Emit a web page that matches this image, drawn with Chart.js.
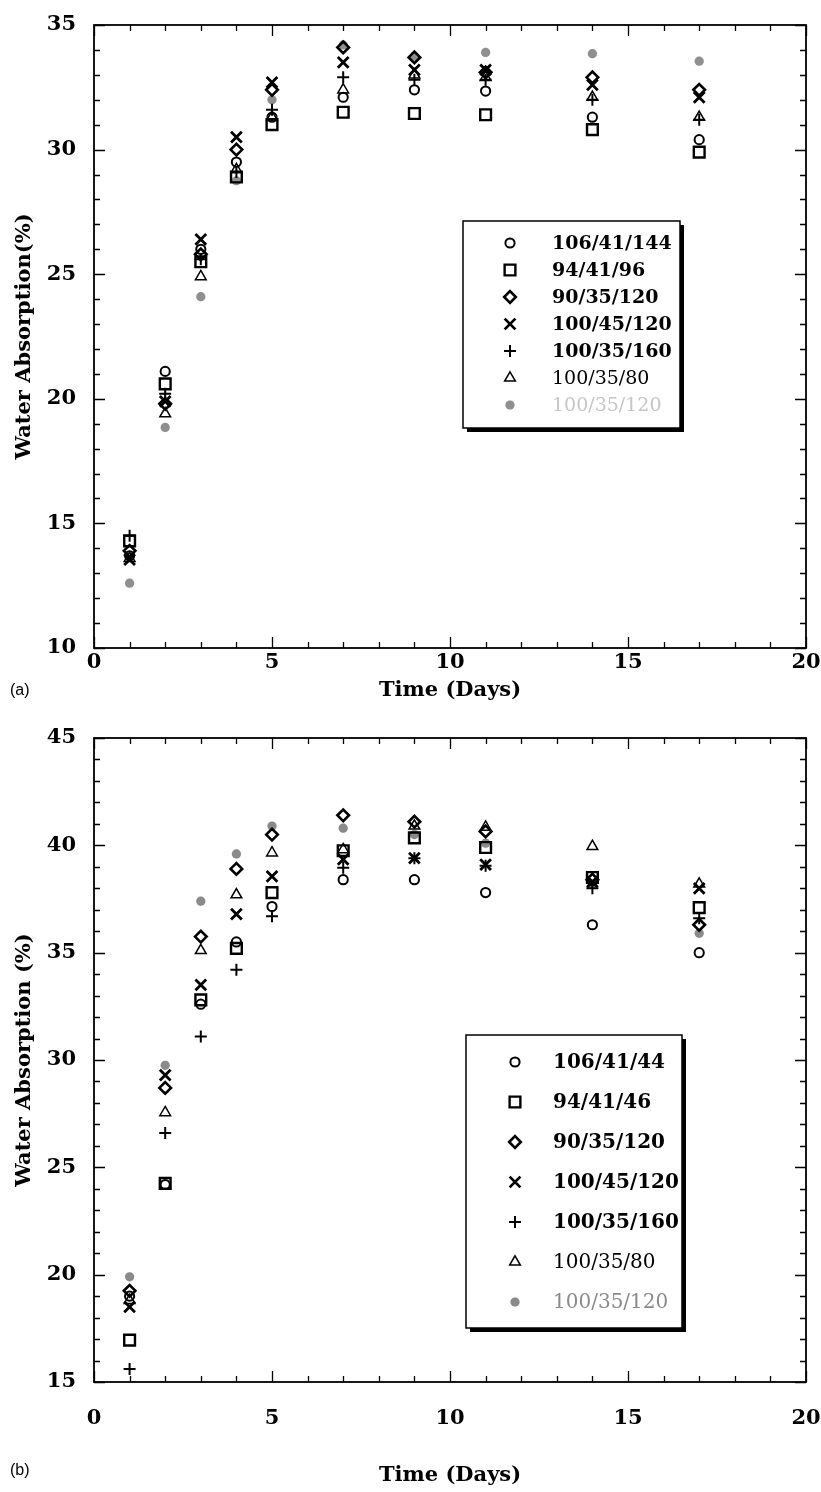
<!DOCTYPE html>
<html>
<head>
<meta charset="utf-8">
<script src="https://cdn.jsdelivr.net/npm/chart.js@4.4.0/dist/chart.umd.min.js"></script>
<style>
  body { margin: 0; background: #fff; width: 821px; height: 1492px; position: relative; overflow: hidden; }
  .wrap { position: absolute; left: 0; width: 821px; }
  #wrap-a { top: 0; height: 705px; }
  #wrap-b { top: 705px; height: 787px; }
  .tag { position: absolute; left: 10px; font: 16px "Liberation Sans", Arial, sans-serif; color: #000; }
</style>
</head>
<body>
<div class="wrap" id="wrap-a"><canvas id="chart-a" width="821" height="705"></canvas></div>
<div class="wrap" id="wrap-b"><canvas id="chart-b" width="821" height="787"></canvas></div>
<div class="tag" style="top:681px">(a)</div>
<div class="tag" style="top:1461px">(b)</div>

<script>
// sampling days (same for both panels)
const days = [1, 2, 3, 4, 5, 7, 9, 11, 14, 17]
const xTicks = [0, 5, 10, 15, 20]

// panel (a)
const namesA = ["106/41/144", "94/41/96", "90/35/120", "100/45/120", "100/35/160", "100/35/80", "100/35/120"]
const yTicksA = [10, 15, 20, 25, 30, 35]
const a106_41_144 = [13.7, 21.1, 26.0, 29.5, 31.3, 32.1, 32.4, 32.35, 31.3, 30.4]
const a94_41_96 = [14.3, 20.6, 25.5, 28.9, 31.0, 31.5, 31.45, 31.4, 30.8, 29.9]
const a90_35_120 = [13.9, 19.8, 25.8, 30.0, 32.4, 34.1, 33.7, 33.1, 32.9, 32.4]
const a100_45_120 = [13.55, 19.9, 26.4, 30.5, 32.7, 33.5, 33.2, 33.2, 32.6, 32.1]
const a100_35_160 = [14.5, 20.2, 25.6, 29.1, 31.6, 32.9, 32.8, 32.8, 32.0, 31.2]
const a100_35_80 = [13.6, 19.4, 24.9, 29.2, 31.3, 32.4, 33.0, 32.9, 32.1, 31.3]
const a100_35_120 = [12.6, 18.85, 24.1, 28.75, 32.0, 34.2, 33.75, 33.9, 33.85, 33.55]

// panel (b)
const namesB = ["106/41/44", "94/41/46", "90/35/120", "100/45/120", "100/35/160", "100/35/80", "100/35/120"]
const yTicksB = [15, 20, 25, 30, 35, 40, 45]
const b106_41_44 = [19.0, 24.2, 32.6, 35.5, 37.15, 38.4, 38.4, 37.8, 36.3, 35.0]
const b94_41_46 = [16.95, 24.25, 32.8, 35.2, 37.8, 39.75, 40.35, 39.9, 38.5, 37.1]
const b90_35_120 = [19.25, 28.7, 35.75, 38.9, 40.5, 41.4, 41.1, 40.65, 38.4, 36.3]
const b100_45_120 = [18.5, 29.3, 33.5, 36.8, 38.55, 39.35, 39.4, 39.1, 38.3, 38.0]
const b100_35_160 = [15.6, 26.6, 31.1, 34.2, 36.7, 38.95, 39.4, 39.05, 38.0, 36.6]
const b100_35_80 = [18.8, 27.55, 35.1, 37.7, 39.65, 39.8, 40.9, 40.85, 39.95, 38.2]
const b100_35_120 = [19.9, 29.75, 37.4, 39.6, 40.9, 40.8, 40.5, 40.1, 38.2, 35.9]

// marker looks, one per series
const markerStyles = ["circle", "rect", "rectRot", "crossRot", "cross", "triangle", "circle"]
const markerRadius = [4.6, 7.6, 5.8, 7.6, 6, 6.2, 4.6]
const markerWidth = [2, 2.4, 2.6, 2.8, 2, 1.5, 0]
const FONT = "'DejaVu Serif', serif"

Chart.defaults.font.family = FONT
Chart.defaults.color = "#000"

function drawMarker(ctx, style, r, x, y) {
  if (Chart.helpers && Chart.helpers.drawPoint) {
    Chart.helpers.drawPoint(ctx, { pointStyle: style, radius: r, borderWidth: ctx.lineWidth, rotation: 0 }, x, y)
  }
}

// box frame with inward ticks on all four sides
const frameTicks = {
  id: "frameTicks",
  beforeDatasetsDraw(chart) {
    let ctx = chart.ctx
    let area = chart.chartArea
    let xs = chart.scales.x
    let ys = chart.scales.y
    ctx.save()
    ctx.strokeStyle = "#000"
    ctx.lineWidth = 1.8
    ctx.strokeRect(area.left, area.top, area.right - area.left, area.bottom - area.top)
    ctx.lineWidth = 1.3
    ctx.beginPath()
    for (let v = xs.min; v <= xs.max; v++) {
      let px = Math.round(xs.getPixelForValue(v)) + 0.5
      let len = v % 5 === 0 ? 11 : 6
      ctx.moveTo(px, area.bottom); ctx.lineTo(px, area.bottom - len)
      ctx.moveTo(px, area.top); ctx.lineTo(px, area.top + len)
    }
    for (let v = ys.min; v <= ys.max; v++) {
      let py = Math.round(ys.getPixelForValue(v)) + 0.5
      let len = v % 5 === 0 ? 11 : 6
      ctx.moveTo(area.left, py); ctx.lineTo(area.left + len, py)
      ctx.moveTo(area.right, py); ctx.lineTo(area.right - len, py)
    }
    ctx.stroke()
    ctx.restore()
  },
}

// legend box with drop shadow, drawn inside the plot
const boxLegend = {
  id: "boxLegend",
  afterDraw(chart, args, opts) {
    let ctx = chart.ctx
    ctx.save()
    ctx.fillStyle = "#000"
    ctx.fillRect(opts.x + 4, opts.y + 4, opts.w, opts.h)
    ctx.fillStyle = "#fff"
    ctx.fillRect(opts.x, opts.y, opts.w, opts.h)
    ctx.strokeStyle = "#000"
    ctx.lineWidth = 1.5
    ctx.strokeRect(opts.x, opts.y, opts.w, opts.h)
    chart.data.datasets.forEach(function (ds, i) {
      let y = opts.rowY + i * opts.rowGap
      ctx.fillStyle = ds.pointBackgroundColor
      ctx.strokeStyle = ds.pointBorderColor
      ctx.lineWidth = ds.pointBorderWidth
      drawMarker(ctx, ds.pointStyle, ds.pointRadius, opts.markerX, y)
      ctx.font = (i < 5 ? "bold " : "") + opts.fontSize + "px " + FONT
      ctx.fillStyle = i === 6 ? opts.grayText : "#000"
      ctx.textBaseline = "middle"
      ctx.textAlign = "left"
      ctx.fillText(ds.label, opts.textX, y + 1)
    })
    ctx.restore()
  },
}

function buildDatasets(names, series, gray) {
  return names.map(function (name, i) {
    let isGray = i === 6
    return {
      label: name,
      data: days.map(function (d, k) { return { x: d, y: series[i][k] } }),
      pointStyle: markerStyles[i],
      pointRadius: markerRadius[i],
      pointBorderWidth: isGray ? 0.1 : markerWidth[i],
      pointBackgroundColor: isGray ? gray : "rgba(0,0,0,0)",
      pointBorderColor: isGray ? gray : "#000",
      showLine: false,
    }
  })
}

function makeChart(id, cfg) {
  let ctx = document.getElementById(id).getContext("2d")
  return new Chart(ctx, {
    type: "scatter",
    data: { datasets: buildDatasets(cfg.names, cfg.series, cfg.gray) },
    options: {
      responsive: false,
      animation: false,
      devicePixelRatio: 1,
      layout: { padding: { left: 0, right: 15, top: cfg.top, bottom: 0 } },
      plugins: {
        legend: { display: false },
        tooltip: { enabled: false },
        boxLegend: cfg.legend,
      },
      scales: {
        x: {
          type: "linear",
          min: xTicks[0],
          max: xTicks[xTicks.length - 1],
          afterBuildTicks: function (s) { s.ticks = xTicks.map(function (v) { return { value: v } }) },
          afterFit: function (s) { s.height = cfg.xHeight },
          // grid hidden; tickLength only sets the gap to the labels
          grid: { display: false, drawTicks: true, tickLength: cfg.xGap },
          border: { display: false },
          ticks: { font: { size: 21, weight: "bold" }, padding: 0, maxRotation: 0 },
          title: { display: true, text: "Time (Days)", font: { size: 21, weight: "bold" }, padding: { top: 0, bottom: cfg.titlePad } },
        },
        y: {
          type: "linear",
          min: cfg.yTicks[0],
          max: cfg.yTicks[cfg.yTicks.length - 1],
          afterBuildTicks: function (s) { s.ticks = cfg.yTicks.map(function (v) { return { value: v } }) },
          afterFit: function (s) { s.width = 94 },
          grid: { display: false, drawTicks: true, tickLength: 18 },
          border: { display: false },
          ticks: { font: { size: 21, weight: "bold" }, padding: 0 },
          title: { display: true, text: cfg.yTitle, font: { size: 21, weight: "bold" }, padding: { top: 12, bottom: 0 } },
        },
      },
    },
    plugins: [frameTicks, boxLegend],
  })
}

makeChart("chart-a", {
  names: namesA,
  series: [a106_41_144, a94_41_96, a90_35_120, a100_45_120, a100_35_160, a100_35_80, a100_35_120],
  gray: "#8f8f8f",
  yTicks: yTicksA,
  yTitle: "Water Absorption(%)",
  top: 25,
  xHeight: 57,
  xGap: 2,
  titlePad: 2,
  legend: { x: 463, y: 221, w: 217, h: 207, markerX: 510, textX: 552, rowY: 243, rowGap: 27, fontSize: 19, grayText: "#c6c6c6" },
})

makeChart("chart-b", {
  names: namesB,
  series: [b106_41_44, b94_41_46, b90_35_120, b100_45_120, b100_35_160, b100_35_80, b100_35_120],
  gray: "#8a8a8a",
  yTicks: yTicksB,
  yTitle: "Water Absorption (%)",
  top: 33,
  xHeight: 110,
  xGap: 24,
  titlePad: 4,
  legend: { x: 466, y: 330, w: 216, h: 293, markerX: 515, textX: 553, rowY: 357, rowGap: 40, fontSize: 20, grayText: "#8a8a8a" },
})
</script>
</body>
</html>
